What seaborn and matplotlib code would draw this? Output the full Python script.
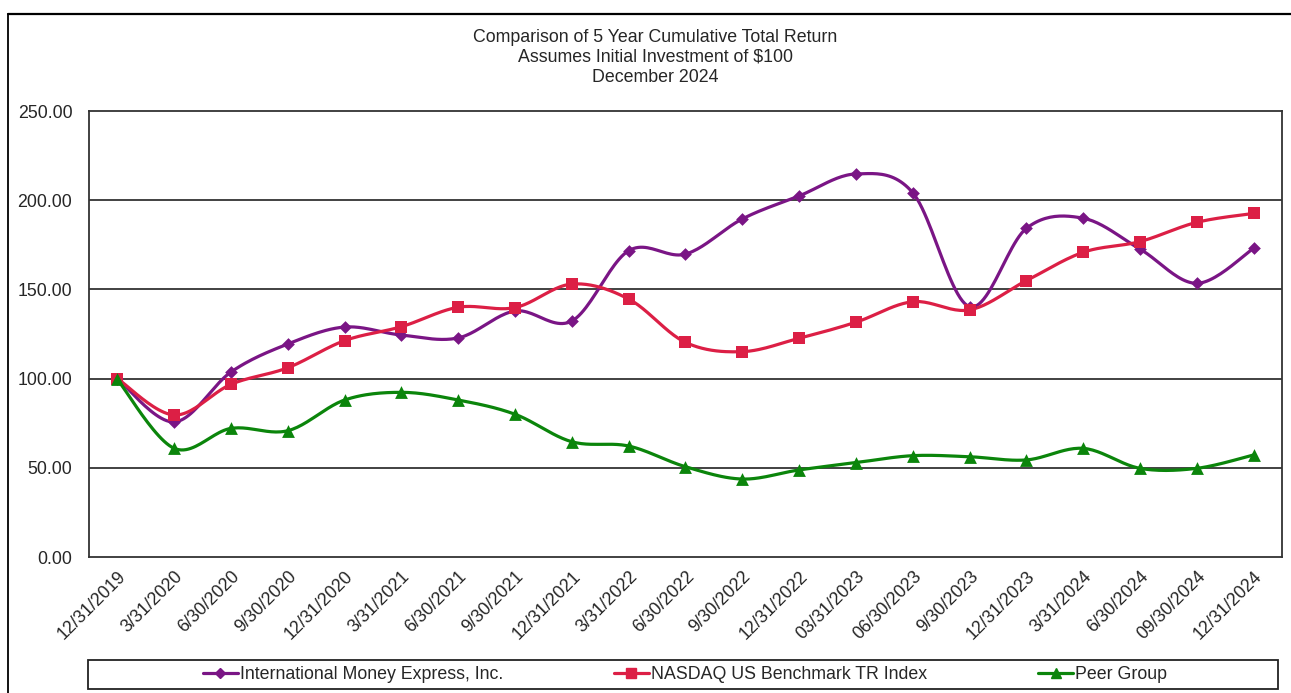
import numpy as np
import pandas as pd
import seaborn as sns
import matplotlib.pyplot as plt
from matplotlib.lines import Line2D
from matplotlib.patches import Rectangle

# quarter-end dates (x axis categories)
dates = ["12/31/2019", "3/31/2020", "6/30/2020", "9/30/2020", "12/31/2020",
         "3/31/2021", "6/30/2021", "9/30/2021", "12/31/2021", "3/31/2022",
         "6/30/2022", "9/30/2022", "12/31/2022", "03/31/2023", "06/30/2023",
         "9/30/2023", "12/31/2023", "3/31/2024", "6/30/2024", "09/30/2024",
         "12/31/2024"]

intermex = [100.0, 75.7, 103.7, 119.4, 128.9, 124.4, 122.8, 137.9, 132.3, 171.7,
            169.8, 189.5, 202.4, 214.7, 204.2, 140.3, 184.2, 189.9, 172.6, 153.4,
            173.0]
nasdaq = [100.0, 79.6, 96.8, 106.1, 121.3, 129.1, 140.0, 139.8, 153.0, 144.6,
          120.3, 115.1, 122.6, 131.6, 143.1, 138.5, 154.9, 170.8, 176.8, 187.6,
          192.6]
peer = [99.5, 60.9, 72.1, 70.8, 88.0, 92.3, 88.0, 80.0, 64.6, 62.2,
        50.6, 43.7, 48.8, 52.9, 56.8, 56.2, 54.4, 60.9, 49.7, 49.7,
        57.2]

names = ["International Money Express, Inc.", "NASDAQ US Benchmark TR Index", "Peer Group"]
colors = ["#7A1585", "#DC1F45", "#0B850B"]
markers = ["D", "s", "^"]
msizes = [42, 80, 85]

title_lines = ["Comparison of 5 Year Cumulative Total Return",
               "Assumes Initial Investment of $100",
               "December 2024"]

FS = 12.8


def smooth(y, n=24):
    # Catmull-Rom curve through the points (Excel style smoothed line)
    x = np.arange(len(y), dtype=float)
    p = np.column_stack([x, np.asarray(y, dtype=float)])
    p = np.vstack([p[0], p, p[-1]])
    out = []
    t = np.linspace(0, 1, n, endpoint=False)[:, None]
    for i in range(1, len(p) - 2):
        p0, p1, p2, p3 = p[i - 1], p[i], p[i + 1], p[i + 2]
        seg = 0.5 * ((2 * p1) + (-p0 + p2) * t
                     + (2 * p0 - 5 * p1 + 4 * p2 - p3) * t ** 2
                     + (-p0 + 3 * p1 - 3 * p2 + p3) * t ** 3)
        out.append(seg)
    out.append(p[-2][None, :])
    return np.vstack(out)


sns.set_style("white")
plt.rcParams['font.family'] = ['Liberation Sans', 'DejaVu Sans']

fig = plt.figure(figsize=(12.91, 6.93), dpi=100)
ax = fig.add_axes([89 / 1291, 1 - 557 / 693, (1282 - 89) / 1291, (557 - 111) / 693])

values = [intermex, nasdaq, peer]
curve_frames, point_frames = [], []
for name, vals in zip(names, values):
    c = smooth(vals)
    curve_frames.append(pd.DataFrame({"x": c[:, 0], "y": c[:, 1], "series": name}))
    point_frames.append(pd.DataFrame({"x": np.arange(len(vals)), "y": vals, "series": name}))
curves = pd.concat(curve_frames, ignore_index=True)
points = pd.concat(point_frames, ignore_index=True)

pal = dict(zip(names, colors))
sns.lineplot(data=curves, x="x", y="y", hue="series", palette=pal, sort=False,
             estimator=None, linewidth=2.3, legend=False, ax=ax, zorder=3)
for name, m, s in zip(names, markers, msizes):
    sns.scatterplot(data=points[points.series == name], x="x", y="y", color=pal[name],
                    marker=m, s=s, linewidth=0, legend=False, ax=ax, zorder=4)

ax.set_xlim(-0.5, 20.5)
ax.set_ylim(0, 250)
ax.set_yticks(np.arange(0, 251, 50))
ax.set_yticklabels([f"{v:.2f}" for v in np.arange(0, 251, 50)], fontsize=FS)
ax.set_xticks(np.arange(len(dates)))
ax.set_xticklabels(dates, rotation=45, ha="right", rotation_mode="anchor", fontsize=FS)
ax.set_xlabel("")
ax.set_ylabel("")
for g in [50, 100, 150, 200]:
    ax.axhline(g, color="#333333", linewidth=1.3, zorder=1)
for sp in ax.spines.values():
    sp.set_visible(True)
    sp.set_color("#333333")
    sp.set_linewidth(1.3)
ax.tick_params(axis="x", direction="in", length=5, width=1, color="#333333", pad=8)
ax.tick_params(axis="y", direction="out", length=8, width=1, color="#333333", pad=4)

for i, line in enumerate(title_lines):
    fig.text(655 / 1291, 1 - (37 + 20 * i) / 693, line, ha="center", va="center", fontsize=FS)

# legend box
fig.patches.append(Rectangle((88 / 1291, 1 - 689 / 693), (1278 - 88) / 1291, 29 / 693,
                             transform=fig.transFigure, fill=False, edgecolor="#222222",
                             linewidth=1.3))
handles = [Line2D([], [], color=c, marker=m, markersize=ms, linewidth=2.3)
           for c, m, ms in zip(colors, markers, [5.5, 7, 7])]
fig.legend(handles, names, loc="center", bbox_to_anchor=(685 / 1291, 1 - 674.5 / 693),
           ncol=3, frameon=False, fontsize=FS, handlelength=2.0, handletextpad=0.12,
           columnspacing=6.2)

# outer frame
fig.add_artist(Line2D([8 / 1291, 1], [1 - 13.5 / 693, 1 - 13.5 / 693],
                      transform=fig.transFigure, color="black", linewidth=1.6))
fig.add_artist(Line2D([8 / 1291, 8 / 1291], [1 - 13.5 / 693, 0],
                      transform=fig.transFigure, color="black", linewidth=1.3))

fig.savefig("out.png", dpi=100)
